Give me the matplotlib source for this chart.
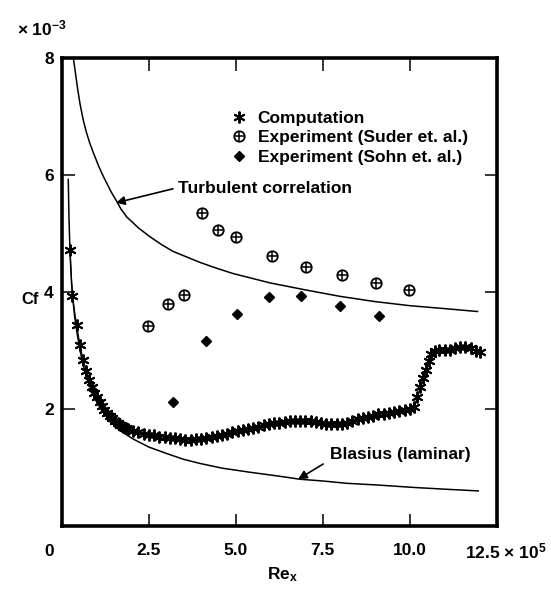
import matplotlib
matplotlib.use('Agg')
import matplotlib.pyplot as plt

# ======================
# DATA  (Re_x in units of 1e5, Cf in units of 1e-3)
# ======================

# Turbulent correlation curve
turb_re = [0.33, 0.38, 0.45, 0.52, 0.61, 0.70, 0.80, 0.90, 1.04, 1.15, 1.30, 1.42,
           1.55, 1.70, 1.86, 2.20, 2.53, 2.85, 3.19, 3.60, 3.97, 4.45, 4.92, 5.45,
           5.98, 7.00, 7.99, 9.00, 10.00, 11.00, 11.95]
turb_cf = [8.00, 7.78, 7.48, 7.22, 6.95, 6.74, 6.55, 6.39, 6.18, 6.03, 5.85, 5.71,
           5.58, 5.42, 5.29, 5.10, 4.95, 4.82, 4.70, 4.60, 4.51, 4.41, 4.32, 4.24,
           4.16, 4.04, 3.93, 3.84, 3.77, 3.72, 3.67]

# Blasius (laminar) curve
blas_re = [0.18, 0.20, 0.23, 0.27, 0.31, 0.36, 0.42, 0.52, 0.61, 0.74, 0.86, 1.00,
           1.20, 1.40, 1.70, 2.04, 2.50, 3.01, 3.50, 3.97, 4.60, 5.40, 6.27, 6.84,
           7.50, 8.19, 9.10, 10.10, 11.00, 11.97]
blas_cf = [5.93, 5.30, 4.70, 4.20, 3.90, 3.60, 3.35, 3.00, 2.75, 2.50, 2.30, 2.12,
           1.93, 1.78, 1.62, 1.49, 1.35, 1.24, 1.14, 1.07, 0.99, 0.92, 0.85, 0.80,
           0.77, 0.73, 0.70, 0.66, 0.63, 0.60]

# Computation
comp_re = [0.23, 0.30, 0.42, 0.52, 0.61, 0.70, 0.78, 0.86, 0.93,
           1.00, 1.08, 1.15, 1.22, 1.30, 1.38, 1.45, 1.53, 1.60, 1.68, 1.75, 1.83,
           1.90, 2.05, 2.20, 2.35, 2.50, 2.65,
           2.80, 2.95, 3.10, 3.25, 3.40, 3.55, 3.70, 3.85, 4.00, 4.15, 4.30, 4.45,
           4.60, 4.75, 4.90, 5.05, 5.20, 5.35, 5.50, 5.65, 5.80, 5.95, 6.10, 6.25,
           6.40, 6.55, 6.70, 6.85, 7.00, 7.15, 7.30, 7.45, 7.60, 7.75, 7.90, 8.05,
           8.20, 8.35, 8.50, 8.65, 8.80, 8.95, 9.10, 9.25, 9.40, 9.55, 9.70, 9.85,
           10.00, 10.12, 10.22, 10.30, 10.38, 10.46, 10.54, 10.62, 10.72, 10.85,
           11.00, 11.15, 11.30, 11.45, 11.60, 11.75, 11.90, 12.02]
comp_cf = [4.72, 3.94, 3.44, 3.09, 2.84, 2.66, 2.49, 2.37, 2.28,
           2.20, 2.12, 2.05, 1.99, 1.94, 1.89, 1.84, 1.80, 1.76, 1.73, 1.70, 1.68,
           1.66, 1.63, 1.60, 1.58, 1.56, 1.55,
           1.53, 1.52, 1.51, 1.50, 1.48, 1.47, 1.47, 1.48, 1.49, 1.50, 1.52, 1.54,
           1.56, 1.58, 1.60, 1.62, 1.64, 1.66, 1.68, 1.70, 1.72, 1.74, 1.76, 1.77,
           1.78, 1.79, 1.80, 1.80, 1.80, 1.79, 1.78, 1.76, 1.75, 1.74, 1.74, 1.75,
           1.77, 1.80, 1.83, 1.85, 1.87, 1.89, 1.91, 1.92, 1.94, 1.95, 1.96, 1.98,
           2.00, 2.04, 2.20, 2.38, 2.53, 2.67, 2.82, 2.95, 3.00, 3.01,
           3.01, 3.02, 3.04, 3.07, 3.07, 3.04, 3.00, 2.97]

# Experiment (Suder et. al.)
suder_re = [2.48, 3.04, 3.52, 4.02, 4.49, 5.00, 6.03, 7.02, 8.04, 9.03, 9.99]
suder_cf = [3.43, 3.80, 3.96, 5.35, 5.06, 4.94, 4.62, 4.43, 4.29, 4.16, 4.03]

# Experiment (Sohn et. al.)
sohn_re = [3.20, 4.13, 5.04, 5.96, 6.87, 7.99, 9.12]
sohn_cf = [2.12, 3.16, 3.63, 3.91, 3.94, 3.76, 3.60]

x_ticks = [0, 2.5, 5.0, 7.5, 10.0, 12.5]
x_ticklabels = ['', '2.5', '5.0', '7.5', '10.0', '']
y_ticks = [2, 4, 6, 8]
y_ticklabels = ['2', '4', '6', '8']

# ======================
# STYLE
# ======================
fs = 12.5
plt.rcParams['font.family'] = ['Liberation Sans', 'DejaVu Sans']
plt.rcParams['font.weight'] = 'bold'
plt.rcParams['font.size'] = fs
plt.rcParams['mathtext.fontset'] = 'custom'
plt.rcParams['mathtext.rm'] = 'Liberation Sans:bold'
plt.rcParams['mathtext.bf'] = 'Liberation Sans:bold'
plt.rcParams['mathtext.it'] = 'Liberation Sans:bold'

fig = plt.figure(figsize=(5.51, 5.95), dpi=100)
ax = fig.add_axes([0.1125, 0.116, 0.7889, 0.7857])

# Curves
ax.plot(turb_re, turb_cf, color='k', lw=1.1)
ax.plot(blas_re, blas_cf, color='k', lw=1.1)

# Computation
comp, = ax.plot(comp_re, comp_cf, color='k', ls='none',
                marker=(6, 2, 0), ms=8.5, mew=1.4)
ax.plot(comp_re, comp_cf, color='k', lw=0.8)

# Suder: circle with plus
sud_o, = ax.plot(suder_re, suder_cf, ls='none', marker='o', ms=7.5,
                 mfc='white', mec='k', mew=1.3)
sud_p, = ax.plot(suder_re, suder_cf, ls='none', marker='+', ms=7.0,
                 color='k', mew=1.1)

# Sohn: filled diamonds
sohn, = ax.plot(sohn_re, sohn_cf, ls='none', marker='D', ms=5.5, color='k')

ax.set_xlim(0, 12.5)
ax.set_ylim(0, 8)

ax.set_xticks(x_ticks)
ax.set_xticklabels(x_ticklabels)
ax.set_yticks(y_ticks)
ax.set_yticklabels(y_ticklabels)
ax.tick_params(direction='in', length=9, width=1.1, top=True, right=True,
               labelsize=fs)
ax.tick_params(axis='x', pad=12)
ax.tick_params(axis='y', pad=6)
for s in ax.spines.values():
    s.set_linewidth(2.6)

# x tick labels at the ends
ax.text(-0.37, -0.055, '0', transform=ax.get_xaxis_transform(),
        ha='center', va='center', fontsize=fs, fontweight='bold')
ax.text(11.59, -0.055, r'12.5 $\times$ 10$^{5}$', transform=ax.get_xaxis_transform(),
        ha='left', va='center', fontsize=fs, fontweight='bold')

# Axis labels
fig.text(30 / 551, 1 - 299 / 595, 'Cf', ha='center', va='center', fontsize=12)
fig.text(283 / 551, 1 - 575 / 595, r'Re$_{\mathbf{x}}$', ha='center', va='center',
         fontsize=fs)
fig.text(17 / 551, 1 - 28 / 595, r'$\times$ 10$^{-3}$', ha='left', va='center',
         fontsize=fs)

# Annotations
ax.annotate('', xy=(1.55, 5.53), xytext=(3.19, 5.77),
            arrowprops=dict(arrowstyle='-|>', color='k', lw=1.2, mutation_scale=13,
                            shrinkA=0, shrinkB=0))
ax.text(3.34, 5.78, 'Turbulent correlation', ha='left', va='center', fontsize=fs)
ax.annotate('', xy=(6.79, 0.80), xytext=(7.51, 1.06),
            arrowprops=dict(arrowstyle='-|>', color='k', lw=1.2, mutation_scale=13,
                            shrinkA=0, shrinkB=0))
ax.text(7.71, 1.215, 'Blasius (laminar)', ha='left', va='center', fontsize=fs)

# Legend
ax.legend([comp, (sud_o, sud_p), sohn],
          ['Computation', 'Experiment (Suder et. al.)', 'Experiment (Sohn et. al.)'],
          loc='upper left', bbox_to_anchor=(230 / 551, 1 - 110.5 / 595),
          bbox_transform=fig.transFigure, frameon=False, borderpad=0,
          borderaxespad=0, handlelength=1.0, handletextpad=0.59,
          labelspacing=0.26, fontsize=fs)

plt.savefig('out.png', dpi=100)
